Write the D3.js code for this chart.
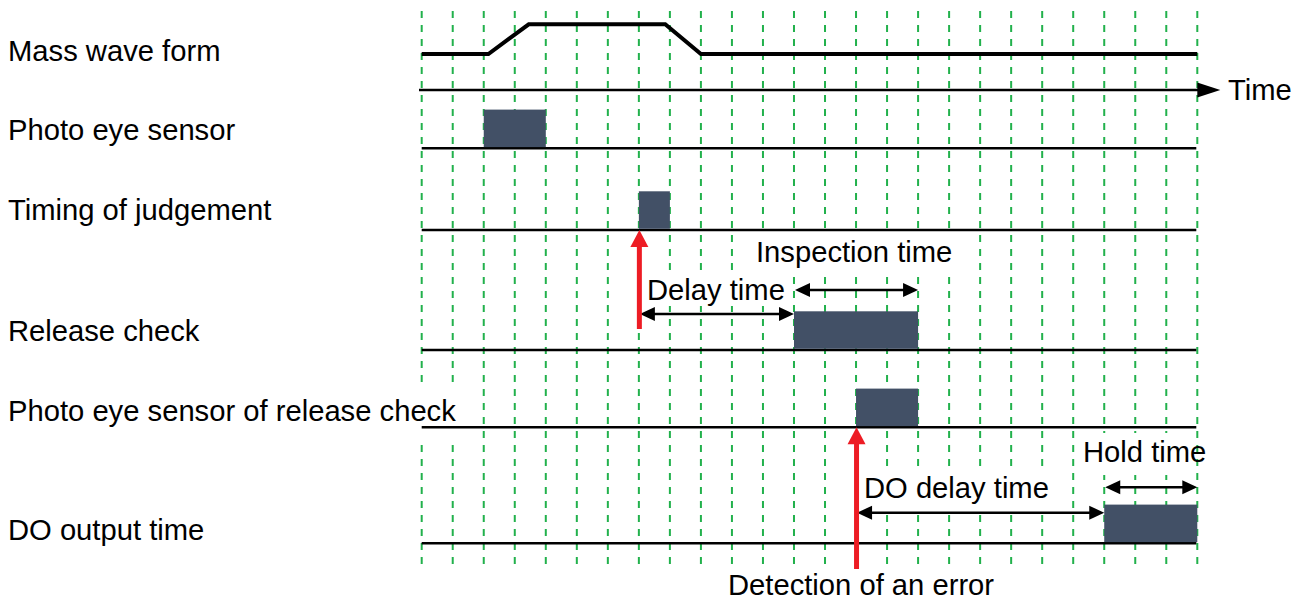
<!DOCTYPE html>
<html><head><meta charset="utf-8">
<script src="https://cdn.jsdelivr.net/npm/d3@7"></script>
<style>html,body{margin:0;padding:0;background:#fff;overflow:hidden}svg{display:block}</style>
</head><body>
<script>
// ---------- data ----------
const gridSlots = [0,1,2,3,4,5,6,7,8,9,10,11,12,13,14,15,16,17,18,19,20,21,22,23,24,25];
const rowLabels = ["Mass wave form","Photo eye sensor","Timing of judgement","Release check","Photo eye sensor of release check","DO output time"];
const waveTimes  = [0, 2.15, 3.45, 7.85, 9.0, 25];
const waveLevels = [0, 0, 1, 1, 0, 0];
const pulseRows  = ["Photo eye sensor","Timing of judgement","Release check","Photo eye sensor of release check","DO output time"];
const pulseStart = [2, 7, 12, 14, 22];
const pulseEnd   = [4, 8, 16, 16, 25];
const spanLabels = ["Delay time","Inspection time","DO delay time","Hold time"];
const spanStart  = [7, 12, 14, 22];
const spanEnd    = [12, 16, 22, 25];
const spanRows   = ["Release check","Release check","DO output time","DO output time"];
const triggerSlots  = [7, 14];
const triggerRows   = ["Timing of judgement","Photo eye sensor of release check"];
const triggerLabels = ["", "Detection of an error"];
const axisLabel = "Time";

// ---------- layout ----------
const W = 1306, H = 601;
const FONT = "'Liberation Sans', Arial, sans-serif";
const FS = 29.2;
const rowBase  = {"Mass wave form":54,"Photo eye sensor":148.3,"Timing of judgement":230,"Release check":350,"Photo eye sensor of release check":427.3,"DO output time":543.3};
const labelY   = {"Mass wave form":60.7,"Photo eye sensor":140,"Timing of judgement":220,"Release check":340.7,"Photo eye sensor of release check":420.7,"DO output time":540};
const timeAxisY = 90;
const spanLayout = [
  {dy:-36, tx:647, ty:300, box:[640,272,792,306]},
  {dy:-60, tx:756, ty:262, box:[750,232,958,270]},
  {dy:-30.6, tx:864, ty:498, box:[860,473,1052,508]},
  {dy:-56, tx:1083, ty:462, box:[1078,433,1192,475]}
];
const triggerBottom = [329, 569];
const triggerTextY = [0, 595];
const triggerTextX = [0, 728];

const x = d3.scaleLinear().domain([0, 25]).range([421.7, 1197.3]);
const waveY = d3.scaleLinear().domain([0, 1]).range([54, 24.3]);
const pulseH = d3.scaleLinear().domain([0, 1]).range([0, 37.5]);

const svg = d3.select("body").append("svg").attr("width", W).attr("height", H)
  .style("background", "#fff");

// grid
svg.append("g").selectAll("line").data(gridSlots).join("line")
  .attr("x1", d => x(d)).attr("x2", d => x(d))
  .attr("y1", 11).attr("y2", 571)
  .attr("stroke", "#22b14c").attr("stroke-width", 2)
  .attr("stroke-dasharray", "7,7");

// white text boxes covering grid
const boxes = spanLayout.map(s => s.box).concat([[0,383,460,443]]);
svg.append("g").selectAll("rect").data(boxes).join("rect")
  .attr("x", d => d[0]).attr("y", d => d[1])
  .attr("width", d => d[2]-d[0]).attr("height", d => d[3]-d[1])
  .attr("fill", "#fff");

// time axis
svg.append("line").attr("x1", 419).attr("x2", x(25)+2).attr("y1", timeAxisY).attr("y2", timeAxisY)
  .attr("stroke", "#000").attr("stroke-width", 2.5);
svg.append("path")
  .attr("d", `M${x(25)},${timeAxisY-7.5} L${x(25)+23},${timeAxisY} L${x(25)},${timeAxisY+7.5} Z`)
  .attr("fill", "#000");
svg.append("text").attr("x", 1228).attr("y", 100).text(axisLabel)
  .attr("font-family", FONT).attr("font-size", FS).attr("fill", "#000");

// mass wave form
const wave = waveTimes.map((t, i) => [x(t), waveY(waveLevels[i])]);
svg.append("path").attr("d", d3.line()(wave))
  .attr("fill", "none").attr("stroke", "#000").attr("stroke-width", 4)
  .attr("stroke-linejoin", "miter");

// baselines
svg.append("g").selectAll("line").data(pulseRows).join("line")
  .attr("x1", x(0)).attr("x2", x(25) - 1)
  .attr("y1", d => rowBase[d]).attr("y2", d => rowBase[d])
  .attr("stroke", "#000").attr("stroke-width", 2.5);

// pulses
svg.append("g").selectAll("rect").data(pulseRows).join("rect")
  .attr("x", (d, i) => x(pulseStart[i]))
  .attr("width", (d, i) => x(pulseEnd[i]) - x(pulseStart[i]))
  .attr("y", d => rowBase[d] - pulseH(1) - 1.2)
  .attr("height", pulseH(1))
  .attr("fill", "#425066");

// double-headed span arrows
function dblArrow(g, x1, x2, y) {
  const L = 15, hw = 7;
  g.append("line").attr("x1", x1 + L - 2).attr("x2", x2 - L + 2).attr("y1", y).attr("y2", y)
    .attr("stroke", "#000").attr("stroke-width", 2.5);
  g.append("path").attr("d", `M${x1},${y} L${x1+L},${y-hw} L${x1+L},${y+hw} Z`).attr("fill", "#000");
  g.append("path").attr("d", `M${x2},${y} L${x2-L},${y-hw} L${x2-L},${y+hw} Z`).attr("fill", "#000");
}
const spanG = svg.append("g");
spanLabels.forEach((lab, i) => {
  const s = spanLayout[i];
  const y = rowBase[spanRows[i]] + s.dy;
  dblArrow(spanG, x(spanStart[i]) + 1, x(spanEnd[i]), y);
  spanG.append("text").attr("x", s.tx).attr("y", s.ty).text(lab)
    .attr("font-family", FONT).attr("font-size", FS).attr("fill", "#000");
});

// trigger (red) arrows
triggerSlots.forEach((t, i) => {
  const cx = x(t) + 0.5, tip = rowBase[triggerRows[i]], bot = triggerBottom[i];
  svg.append("line").attr("x1", cx).attr("x2", cx).attr("y1", bot).attr("y2", tip + 14)
    .attr("stroke", "#ed1c24").attr("stroke-width", 5);
  svg.append("path").attr("d", `M${cx},${tip} L${cx+9},${tip+17} L${cx-9},${tip+17} Z`)
    .attr("fill", "#ed1c24");
  if (triggerLabels[i]) {
    svg.append("text").attr("x", triggerTextX[i]).attr("y", triggerTextY[i]).text(triggerLabels[i])
      .attr("font-family", FONT).attr("font-size", FS).attr("fill", "#000");
  }
});

// row labels
svg.append("g").selectAll("text").data(rowLabels).join("text")
  .attr("x", 8).attr("y", d => labelY[d]).text(d => d)
  .attr("font-family", FONT).attr("font-size", FS).attr("fill", "#000");
</script>
</body></html>
